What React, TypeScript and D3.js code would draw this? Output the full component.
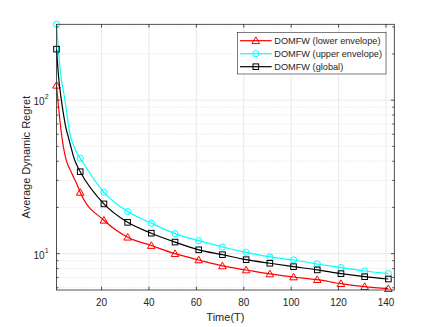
import React from "react";
import * as d3 from "d3";

// Time steps of line samples (dense at start, then every 10)
const lineT = [1, 2, 3, 4, 5, 6, 7, 8, 9, 10, 11, 21, 31, 41, 51, 61, 71, 81, 91, 101, 111, 121, 131, 141];
const markerT = [1, 11, 21, 31, 41, 51, 61, 71, 81, 91, 101, 111, 121, 131, 141];

const lowerValues = [125, 86, 62, 48.7, 41.3, 37.2, 34.5, 32.0, 29.7, 27.4, 25.1, 16.5, 12.8, 11.3, 10.0, 9.1, 8.32, 7.83, 7.38, 7.05, 6.77, 6.38, 6.1, 5.92];
const upperValues = [312, 196, 137, 113, 90.2, 69.8, 57.4, 51.8, 47.3, 44.2, 41.8, 25.1, 18.8, 15.8, 13.5, 12.15, 11.06, 10.2, 9.52, 9.1, 8.57, 8.11, 7.71, 7.41];
const globalValues = [215, 135, 101.5, 79.8, 65.7, 57.4, 50.2, 43.9, 39.5, 36.6, 34.2, 21.1, 16.0, 13.6, 11.9, 10.6, 9.85, 9.14, 8.66, 8.23, 7.84, 7.41, 7.08, 6.84];

const seriesNames = ["DOMFW (lower envelope)", "DOMFW (upper envelope)", "DOMFW (global)"];
const xTicks = [20, 40, 60, 80, 100, 120, 140];
const yMajor = [10, 100];
const yMinor = [6, 7, 8, 9, 20, 30, 40, 50, 60, 70, 80, 90, 200, 300];
const xDomain = [1, 143.5];
const yDomain = [5.8, 312];

const W = 436, H = 327;
const L = 56.5, R = 394.3, T = 24.3, B = 290;
const axisColor = "#262626";
const font = "'Liberation Sans', Arial, Helvetica, sans-serif";

export default function App() {
  const x = d3.scaleLinear().domain(xDomain).range([L, R]);
  const y = d3.scaleLog().domain(yDomain).range([B, T]);

  const series = [
    { name: seriesNames[0], values: lowerValues, color: "#ff0000", marker: "tri" },
    { name: seriesNames[1], values: upperValues, color: "#00ffff", marker: "circ" },
    { name: seriesNames[2], values: globalValues, color: "#000000", marker: "sq" },
  ];

  const line = d3
    .line<number>()
    .x((_, i) => x(lineT[i]))
    .y((v) => y(v))
    .curve(d3.curveMonotoneX);

  const marker = (kind: string, cx: number, cy: number, color: string, key: any) => {
    if (kind === "tri") {
      const s = 3.8;
      const p = `M${cx},${cy - s} L${cx + s},${cy + s * 0.75} L${cx - s},${cy + s * 0.75} Z`;
      return <path key={key} d={p} fill="none" stroke={color} strokeWidth={1} />;
    }
    if (kind === "circ") {
      return <circle key={key} cx={cx} cy={cy} r={3.1} fill="none" stroke={color} strokeWidth={1} />;
    }
    const h = 2.8;
    return <rect key={key} x={cx - h} y={cy - h} width={2 * h} height={2 * h} fill="none" stroke={color} strokeWidth={1} />;
  };

  const drawOrder = [0, 1, 2];

  return (
    <svg width={W} height={H} style={{ position: "absolute", left: 0, top: 0, background: "#fff" }} fontFamily={font}>
      <rect x={0} y={0} width={W} height={H} fill="#fff" />
      <rect x={L} y={T} width={R - L} height={B - T} fill="#fff" />
      {/* grid */}
      {xTicks.map((t) => (
        <line key={"gx" + t} x1={x(t)} x2={x(t)} y1={T} y2={B} stroke="#e3e3e3" strokeWidth={0.8} />
      ))}
      {yMinor.map((t) => (
        <line key={"gmy" + t} x1={L} x2={R} y1={y(t)} y2={y(t)} stroke="#c8c8c8" strokeWidth={0.6} strokeDasharray="1,2" />
      ))}
      {yMajor.map((t) => (
        <line key={"gy" + t} x1={L} x2={R} y1={y(t)} y2={y(t)} stroke="#e3e3e3" strokeWidth={0.8} />
      ))}
      {/* series */}
      {drawOrder.map((si) => {
        const s = series[si];
        return (
          <g key={s.name}>
            <path d={line(s.values) || ""} fill="none" stroke={s.color} strokeWidth={1.2} />
            {markerT.map((mt, j) => {
              const idx = lineT.indexOf(mt);
              return marker(s.marker, x(mt), y(s.values[idx]), s.color, j);
            })}
          </g>
        );
      })}
      {/* axes box */}
      <rect x={L} y={T} width={R - L} height={B - T} fill="none" stroke={axisColor} strokeWidth={0.8} />
      {xTicks.map((t) => (
        <g key={"tx" + t}>
          <line x1={x(t)} x2={x(t)} y1={B} y2={B - 3.3} stroke={axisColor} strokeWidth={0.8} />
          <line x1={x(t)} x2={x(t)} y1={T} y2={T + 3.3} stroke={axisColor} strokeWidth={0.8} />
          <text x={x(t)} y={B + 16} textAnchor="middle" fontSize={10} fill={axisColor}>{t}</text>
        </g>
      ))}
      {yMinor.map((t) => (
        <g key={"tmy" + t}>
          <line x1={L} x2={L + 2} y1={y(t)} y2={y(t)} stroke={axisColor} strokeWidth={0.8} />
          <line x1={R} x2={R - 2} y1={y(t)} y2={y(t)} stroke={axisColor} strokeWidth={0.8} />
        </g>
      ))}
      {yMajor.map((t) => (
        <g key={"ty" + t}>
          <line x1={L} x2={L + 3.3} y1={y(t)} y2={y(t)} stroke={axisColor} strokeWidth={0.8} />
          <line x1={R} x2={R - 3.3} y1={y(t)} y2={y(t)} stroke={axisColor} strokeWidth={0.8} />
          <text x={44.5} y={y(t) + 5} textAnchor="end" fontSize={10} fill={axisColor}>10</text>
          <text x={44.8} y={y(t) - 1} textAnchor="start" fontSize={7} fill={axisColor}>{Math.round(Math.log10(t))}</text>
        </g>
      ))}
      {/* labels */}
      <text x={(L + R) / 2} y={320.5} textAnchor="middle" fontSize={11} fill={axisColor}>Time(T)</text>
      <text transform={`translate(30,${(T + B) / 2}) rotate(-90)`} textAnchor="middle" fontSize={11} fill={axisColor}>Average Dynamic Regret</text>
      {/* legend */}
      <g>
        <rect x={237.3} y={32.3} width={148.7} height={41.7} fill="#fff" stroke="#262626" strokeWidth={0.6} />
        {series.map((s, i) => {
          const ly = 40.7 + i * 13;
          return (
            <g key={"lg" + i}>
              <line x1={240} x2={271.7} y1={ly} y2={ly} stroke={s.color} strokeWidth={1.2} />
              {marker(s.marker, 255.8, ly, s.color, "m")}
              <text x={274.3} y={ly + 3.3} fontSize={9.2} fill={axisColor}>{s.name}</text>
            </g>
          );
        })}
      </g>
    </svg>
  );
}
